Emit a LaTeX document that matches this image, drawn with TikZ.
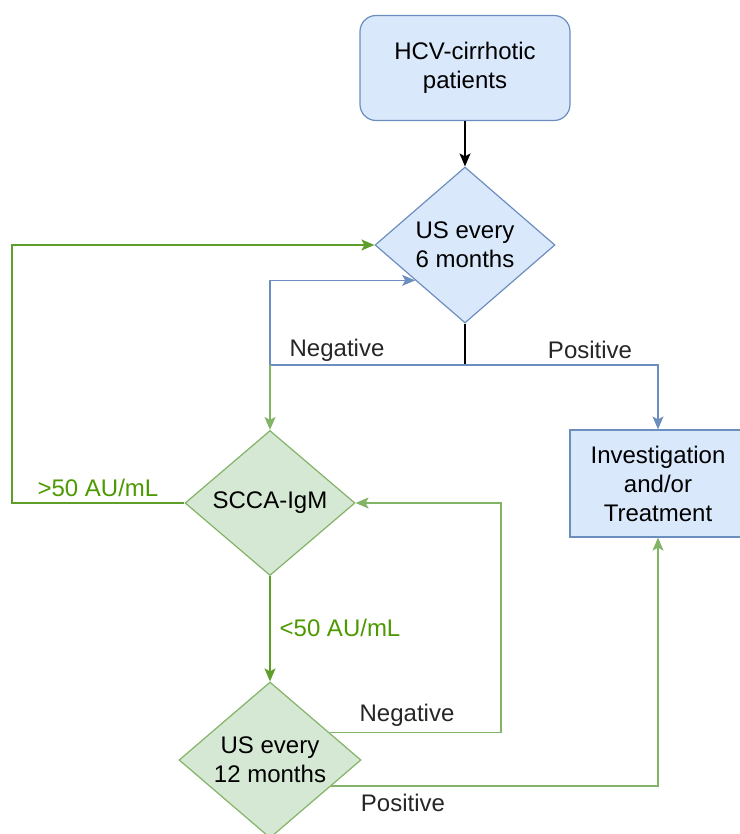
\documentclass[tikz,border=0pt]{standalone}
\usepackage{fontspec}
\setmainfont{Liberation Sans}
\usetikzlibrary{arrows.meta,positioning,calc,shapes.geometric}
\definecolor{usBlueFill}{HTML}{DAE8FC}
\definecolor{usBlueLine}{HTML}{6C8EBF}
\definecolor{igGreenFill}{HTML}{D5E8D4}
\definecolor{igGreenLine}{HTML}{82B366}
\definecolor{igGreenDark}{HTML}{5F9E2A}
\definecolor{igGreenText}{HTML}{4D9900}

\begin{document}
\begin{tikzpicture}[x=1pt,y=-1pt, font=\fontsize{24}{29}\selectfont, line width=1.2pt,
  bluebox/.style={draw=usBlueLine, fill=usBlueFill, align=center, inner sep=0pt},
  bluedia/.style={diamond, aspect=1.15, draw=usBlueLine, fill=usBlueFill, align=center, inner sep=0pt},
  greendia/.style={diamond, aspect=1.15, draw=igGreenLine, fill=igGreenFill, align=center, inner sep=0pt},
  arr/.style={-{Stealth[length=13pt,width=11pt,inset=3pt]}},
  lbl/.style={inner sep=0pt, text=black!85}]
\useasboundingbox (0,0) rectangle (739,834);
% ---------------- nodes (pixel grid of the figure) ----------------
\node[bluebox, rounded corners=16pt, minimum width=210pt, minimum height=105pt] (pat) at (465,68) {HCV-cirrhotic\\patients};
\node[bluedia, minimum width=180pt, minimum height=156pt] (us6) at (465,245) {US every\\6 months};
\node[bluebox, minimum width=176pt, minimum height=107pt] (inv) at (658,483.5) {Investigation\\and/or\\Treatment};
\node[greendia, minimum width=170pt, minimum height=145pt] (scca) at (270,503) {SCCA-IgM};
\node[greendia, minimum width=182pt, minimum height=156pt] (us12) at (270,760) {US every\\12 months};
% corners of the connectors
\coordinate (us6jn) at (465,365);
\coordinate (loopL) at (12,503);
\coordinate (negR) at (501,503);
% ---------------- top: patients -> US every 6 months ----------------
\draw[arr, black] (pat) -- (us6);
\draw[black] (us6.south) -- (us6jn);
% negative: back to US and down to SCCA, positive: to investigation
\draw[arr, usBlueLine] (us6jn) -- (us6jn -| scca) |- ($(us6.west)!0.45!(us6.south)$);
\draw[arr, usBlueLine] (us6jn) -| (inv.north);
\draw[arr, igGreenLine] (us6jn -| scca) -- (scca.north);
\node[lbl] (neg6) at (337,350) {Negative};
\node[lbl] (pos6) at (590,350) {Positive};
% ---------------- SCCA-IgM branches ----------------
\draw[arr, igGreenDark] (scca.west) -- (loopL) |- (us6.west);
\node[lbl, text=igGreenText] (hi) at (98,488) {>50 AU/mL};
\draw[arr, igGreenDark] (scca.south) -- (us12.north);
\node[lbl, text=igGreenText] (lo) at (340,628) {<50 AU/mL};
% ---------------- US every 12 months branches ----------------
\draw[arr, igGreenLine] ($(us12.north)!0.65!(us12.east)$) -| (negR) -- (scca.east);
\draw[arr, igGreenLine] ($(us12.east)!0.33!(us12.south)$) -| (inv.south);
\node[lbl] (neg12) at (407,715) {Negative};
\node[lbl] (pos12) at (403,803) {Positive};
\end{tikzpicture}
\end{document}
